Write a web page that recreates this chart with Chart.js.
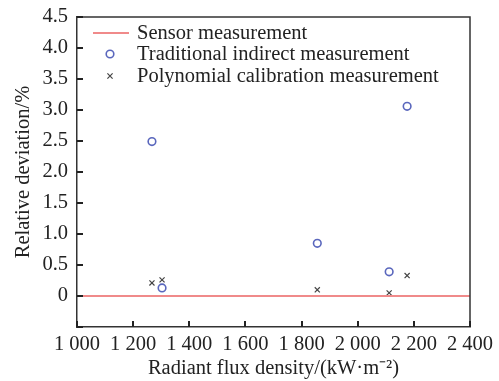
<!DOCTYPE html>
<html>
<head>
<meta charset="utf-8">
<script src="https://cdn.jsdelivr.net/npm/chart.js@4/dist/chart.umd.min.js"></script>
<style>
  html, body { margin: 0; padding: 0; background: #fff; }
  #wrap { width: 499px; height: 381px; }
</style>
</head>
<body>
<div id="wrap"><canvas id="chart" width="499" height="381"></canvas></div>
<script>
// Data
const sensorFlux = [1000, 2400];
const sensorDev = [0, 0];
const tradFlux = [1267, 1303, 1856, 2112, 2176];
const tradDev = [2.49, 0.13, 0.85, 0.39, 3.06];
const polyFlux = [1267, 1303, 1856, 2112, 2176];
const polyDev = [0.21, 0.26, 0.10, 0.05, 0.33];
const seriesNames = ['Sensor measurement', 'Traditional indirect measurement', 'Polynomial calibration measurement'];

const FONT = '"Liberation Serif", "Times New Roman", serif';
const FS = 20.5;
const AXIS = '#333';
const RED = '#f08a8a';
const BLUE = '#5a67bd';
const GRAY = '#444';

function pts(xs, ys) { return xs.map((x, i) => ({ x: x, y: ys[i] })); }
function fmtX(v) { return Math.floor(v / 1000) + ' ' + String(v % 1000).padStart(3, '0'); }

// frame on top and right, inward ticks, legend inside the plot
const frame = {
  id: 'frame',
  afterDraw(chart) {
    const { ctx, chartArea: a, scales } = chart;
    ctx.save();
    ctx.strokeStyle = AXIS;
    ctx.lineWidth = 1.5;
    ctx.beginPath();
    ctx.moveTo(a.left, a.top);
    ctx.lineTo(a.right, a.top);
    ctx.lineTo(a.right, a.bottom);
    ctx.stroke();

    // inward tick marks
    ctx.strokeStyle = '#222';
    ctx.lineWidth = 2;
    const xTicks = scales.x.ticks.map(t => t.value);
    const yTicks = scales.y.ticks.map(t => t.value);
    xTicks.forEach(v => {
      const px = Math.round(scales.x.getPixelForValue(v));
      ctx.beginPath();
      ctx.moveTo(px, a.bottom);
      ctx.lineTo(px, a.bottom - 6);
      ctx.stroke();
    });
    yTicks.forEach(v => {
      const py = Math.round(scales.y.getPixelForValue(v));
      ctx.beginPath();
      ctx.moveTo(a.left, py);
      ctx.lineTo(a.left + 6, py);
      ctx.stroke();
    });

    const x0 = a.left + 16, tx = a.left + 60;
    const rows = [a.top + 16, a.top + 37, a.top + 59];
    ctx.font = FS + 'px ' + FONT;
    ctx.fillStyle = '#222';
    ctx.textBaseline = 'middle';
    seriesNames.forEach((name, i) => ctx.fillText(name, tx, rows[i] + 1));

    ctx.strokeStyle = RED;
    ctx.lineWidth = 1.8;
    ctx.beginPath();
    ctx.moveTo(x0, rows[0]);
    ctx.lineTo(x0 + 36, rows[0]);
    ctx.stroke();

    ctx.strokeStyle = BLUE;
    ctx.lineWidth = 1.6;
    ctx.beginPath();
    ctx.arc(x0 + 17, rows[1], 3.8, 0, Math.PI * 2);
    ctx.stroke();

    ctx.strokeStyle = GRAY;
    ctx.lineWidth = 1.2;
    const cx = x0 + 17, cy = rows[2], r = 2.6;
    ctx.beginPath();
    ctx.moveTo(cx - r, cy - r); ctx.lineTo(cx + r, cy + r);
    ctx.moveTo(cx + r, cy - r); ctx.lineTo(cx - r, cy + r);
    ctx.stroke();
    ctx.restore();
  }
};

new Chart(document.getElementById('chart'), {
  type: 'scatter',
  data: {
    datasets: [
      {
        label: seriesNames[0],
        type: 'line',
        data: pts(sensorFlux, sensorDev),
        borderColor: RED,
        borderWidth: 1.8,
        pointRadius: 0
      },
      {
        label: seriesNames[1],
        data: pts(tradFlux, tradDev),
        pointStyle: 'circle',
        pointRadius: 3.8,
        borderColor: BLUE,
        backgroundColor: 'rgba(0,0,0,0)',
        borderWidth: 1.6
      },
      {
        label: seriesNames[2],
        data: pts(polyFlux, polyDev),
        pointStyle: 'crossRot',
        pointRadius: 3.6,
        borderColor: GRAY,
        borderWidth: 1.2
      }
    ]
  },
  options: {
    responsive: false,
    animation: false,
    layout: { padding: { top: 17, right: 29, left: 0, bottom: 0 } },
    plugins: { legend: { display: false }, tooltip: { enabled: false } },
    scales: {
      x: {
        type: 'linear',
        min: 1000,
        max: 2400,
        afterFit: s => { s.height = 54; s.paddingLeft = 0; s.paddingRight = 0; },
        border: { display: true, color: AXIS, width: 1.5 },
        grid: { display: false, drawTicks: false },
        ticks: {
          stepSize: 200,
          autoSkip: false,
          maxRotation: 0,
          padding: 5,
          color: '#222',
          font: { family: FONT, size: FS },
          callback: v => fmtX(v)
        },
        title: {
          display: true,
          text: 'Radiant flux density/(kW·m⁻²)',
          color: '#222',
          font: { family: FONT, size: FS },
          padding: { top: 0, bottom: 0 }
        }
      },
      y: {
        min: -0.5,
        max: 4.5,
        afterFit: s => { s.width = 77; s.paddingTop = 0; s.paddingBottom = 0; },
        border: { display: true, color: AXIS, width: 1.5 },
        grid: { display: false, drawTicks: false },
        ticks: {
          stepSize: 0.5,
          autoSkip: false,
          padding: 9,
          color: '#222',
          font: { family: FONT, size: FS },
          callback: v => v < 0 ? '' : (v === 0 ? '0' : v.toFixed(1))
        },
        title: {
          display: true,
          text: 'Relative deviation/%',
          color: '#222',
          font: { family: FONT, size: FS },
          padding: { top: 11, bottom: 0 }
        }
      }
    }
  },
  plugins: [frame]
});
</script>
</body>
</html>
